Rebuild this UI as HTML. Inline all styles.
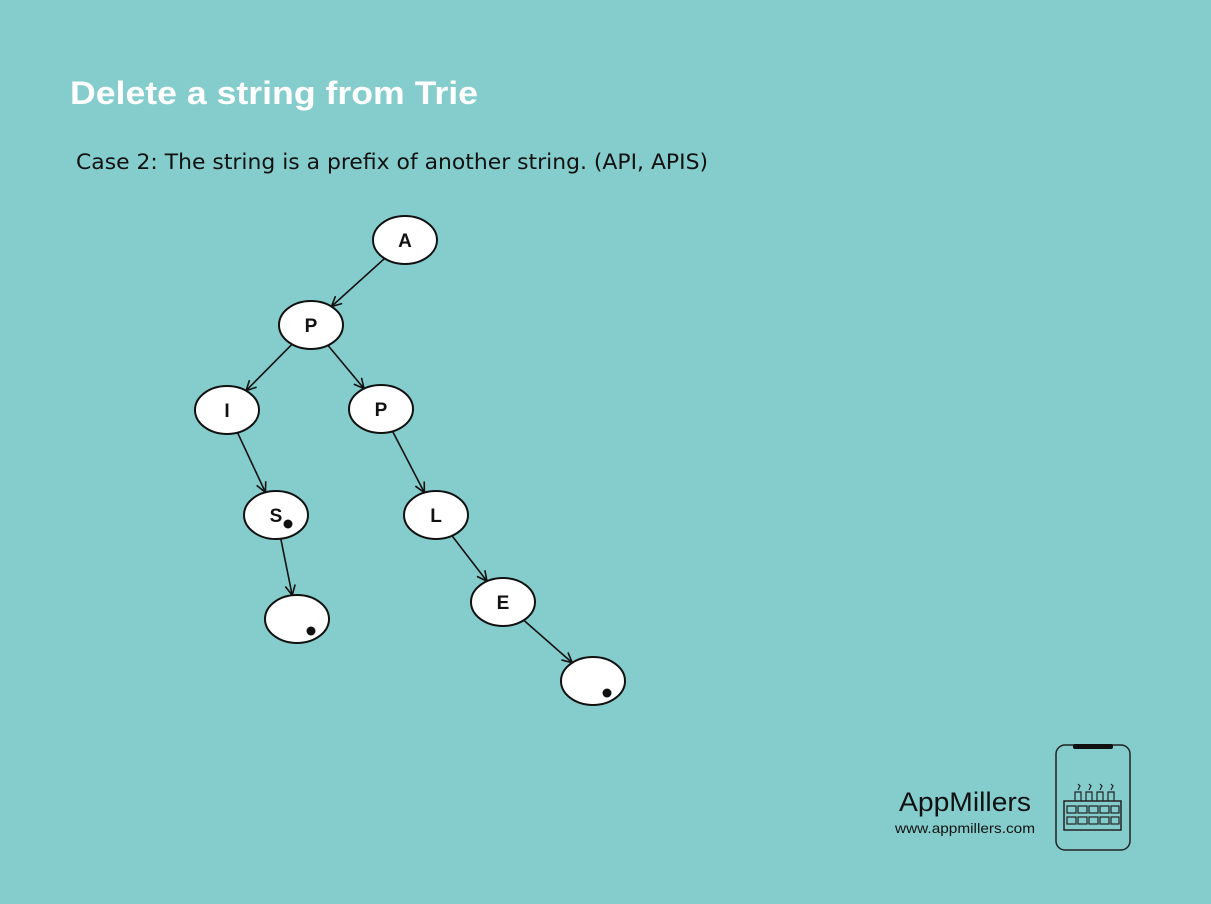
<!DOCTYPE html>
<html><head><meta charset="utf-8"><style>
body{margin:0;width:1211px;height:899px;background:#85cdcc;overflow:hidden;font-family:"Liberation Sans",sans-serif}
</style></head><body>
<svg width="1211" height="899">
<defs><marker id="ah" viewBox="0 0 12 12" refX="11" refY="6" markerWidth="12" markerHeight="12" markerUnits="userSpaceOnUse" orient="auto"><path d="M1,1 L11,6 L1,11" fill="none" stroke="#111" stroke-width="1.6"/></marker></defs>
<rect width="1211" height="899" fill="#85cdcc"/>
<text x="70" y="104" font-size="32" font-weight="bold" fill="#fff" textLength="408" lengthAdjust="spacingAndGlyphs">Delete a string from Trie</text>
<text x="76" y="169" font-size="21" fill="#111" font-family="DejaVu Sans, sans-serif" textLength="632" lengthAdjust="spacingAndGlyphs">Case 2: The string is a prefix of another string. (API, APIS)</text>
<g id="edges"></g><g id="nodes"></g>
<g>
<text x="899" y="811" font-size="27" fill="#111" textLength="132" lengthAdjust="spacingAndGlyphs">AppMillers</text>
<text x="895" y="833" font-size="14" fill="#111" textLength="140" lengthAdjust="spacingAndGlyphs">www.appmillers.com</text>
<rect x="1056" y="745" width="74" height="105" rx="9" fill="none" stroke="#222" stroke-width="1.5"/>
<rect x="1073" y="744" width="40" height="5" rx="2" fill="#111"/>
<rect x="1064" y="801" width="57" height="29" fill="none" stroke="#222" stroke-width="1.5"/>
<g fill="none" stroke="#222" stroke-width="1.2">
<rect x="1067" y="806" width="9" height="7"/><rect x="1078" y="806" width="9" height="7"/><rect x="1089" y="806" width="9" height="7"/><rect x="1100" y="806" width="9" height="7"/><rect x="1111" y="806" width="8" height="7"/>
<rect x="1067" y="817" width="9" height="7"/><rect x="1078" y="817" width="9" height="7"/><rect x="1089" y="817" width="9" height="7"/><rect x="1100" y="817" width="9" height="7"/><rect x="1111" y="817" width="8" height="7"/>
<path d="M1075,801v-9h6v9M1086,801v-9h6v9M1097,801v-9h6v9M1108,801v-9h6v9M1078,790l2-4l-2-2M1089,790l2-4l-2-2M1100,790l2-4l-2-2M1111,790l2-4l-2-2"/>
</g></g>
</svg>
<script>
const nodeLabels=["A","P","I","P","S","","L","E",""];
const nodeX=[405,311,227,381,276,297,436,503,593];
const nodeY=[240,325,410,409,515,619,515,602,681];
const nodeEnd=[false,false,false,false,true,true,false,false,true];
const edgeFrom=[0,1,1,2,4,3,6,7];
const edgeTo=[1,2,3,4,5,6,7,8];
const NS="http://www.w3.org/2000/svg",RX=32,RY=24;
const eg=document.getElementById('edges'),ng=document.getElementById('nodes');
function trim(x1,y1,x2,y2){const dx=x2-x1,dy=y2-y1,t=1/Math.sqrt(dx*dx/(RX*RX)+dy*dy/(RY*RY));return [x1+dx*t,y1+dy*t];}
edgeFrom.forEach((f,i)=>{const t=edgeTo[i];
const a=trim(nodeX[f],nodeY[f],nodeX[t],nodeY[t]),b=trim(nodeX[t],nodeY[t],nodeX[f],nodeY[f]);
const l=document.createElementNS(NS,'line');
l.setAttribute('x1',a[0]);l.setAttribute('y1',a[1]);l.setAttribute('x2',b[0]);l.setAttribute('y2',b[1]);
l.setAttribute('stroke','#111');l.setAttribute('stroke-width','1.6');l.setAttribute('marker-end','url(#ah)');


eg.appendChild(l);});
nodeLabels.forEach((s,i)=>{const g=document.createElementNS(NS,'g');


const e=document.createElementNS(NS,'ellipse');
e.setAttribute('cx',nodeX[i]);e.setAttribute('cy',nodeY[i]);e.setAttribute('rx',RX);e.setAttribute('ry',RY);
e.setAttribute('fill','#fff');e.setAttribute('stroke','#111');e.setAttribute('stroke-width','2');g.appendChild(e);
if(s){const t=document.createElementNS(NS,'text');t.setAttribute('x',nodeX[i]);t.setAttribute('y',nodeY[i]+7);
t.setAttribute('text-anchor','middle');t.setAttribute('font-size','19');t.setAttribute('font-weight','bold');t.setAttribute('fill','#111');t.textContent=s;g.appendChild(t);}
if(nodeEnd[i]){const c=document.createElementNS(NS,'circle');
c.setAttribute('cx',nodeX[i]+(s?12:14));c.setAttribute('cy',nodeY[i]+(s?9:12));c.setAttribute('r','4.5');c.setAttribute('fill','#111');g.appendChild(c);}
ng.appendChild(g);});
</script>
</body></html>
